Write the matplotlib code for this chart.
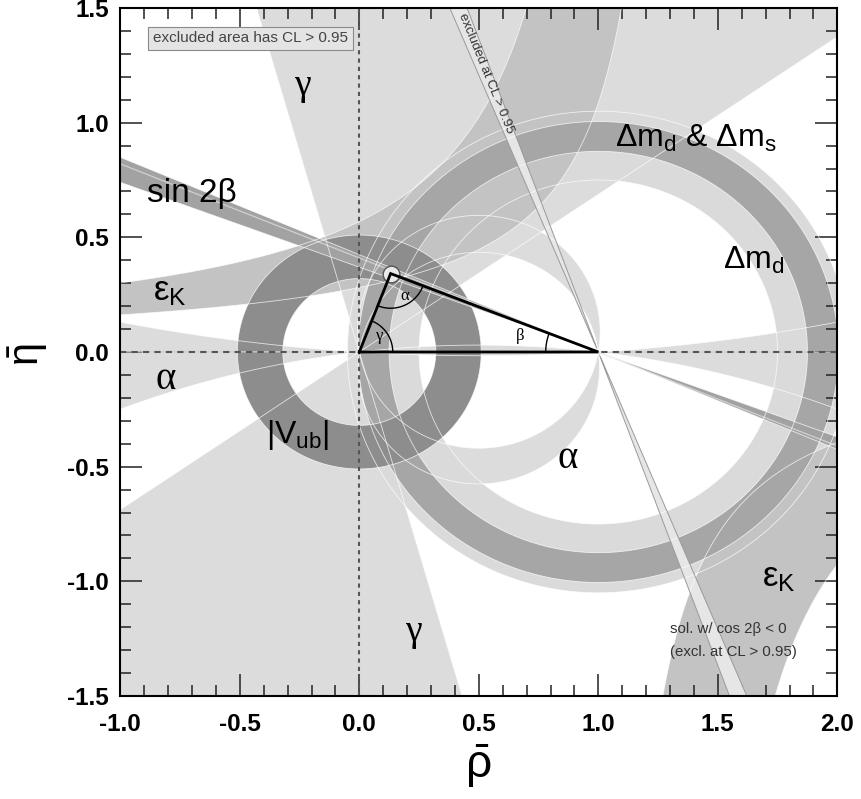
import numpy as np
import matplotlib
matplotlib.use("Agg")
import matplotlib.pyplot as plt

plt.rcParams['font.family'] = ['Liberation Sans', 'DejaVu Sans']
plt.rcParams['mathtext.fontset'] = 'custom'
plt.rcParams['mathtext.rm'] = 'Liberation Sans'
plt.rcParams['mathtext.it'] = 'Liberation Sans'
plt.rcParams['mathtext.bf'] = 'Liberation Sans:bold'
plt.rcParams['axes.unicode_minus'] = False

# ---------------- constraint data ----------------
gamma_deg = [34.5, 106.0]            # gamma: angle of (rho, eta) from origin, mod 180
alpha_main_deg = [80.0, 98.0]        # alpha solutions (mod 180)
alpha_mirror_deg = [-6.9, 3.7]
vub_r = [0.32, 0.51]                 # |Vub/Vcb| ring around (0,0)
dmd_r = [0.75, 1.05]                 # Delta m_d ring around (1,0)
dmd_dms_r = [0.875, 1.005]           # Delta m_d & Delta m_s ring
epsk_up_low = [1.35, 0.38]           # eps_K edges: eta*(a-rho)=k  -> (a, k)
epsk_up_high = [1.125, 0.64]
epsk_dn_inner = [1.01, 0.39]
epsk_dn_outer = [1.32, 0.63]
sin2b_deg = [20.3, 23.0]             # beta band from (1,0)
sin2b_line_deg = 22.3
cos2b_neg_deg = [67.5, 69.9]         # excluded cos2beta<0 solution
apex = [0.131, 0.342]                # (rho, eta) of the triangle apex

xlim = [-1.0, 2.0]
ylim = [-1.5, 1.5]
xticks_major = [-1.0, -0.5, 0.0, 0.5, 1.0, 1.5, 2.0]
yticks_major = [-1.5, -1.0, -0.5, 0.0, 0.5, 1.0, 1.5]

# ---------------- figure ----------------
W, H = 861, 799
fig = plt.figure(figsize=(W / 100, H / 100), dpi=100)
ax_rect = [120.3 / W, (H - 696) / H, 717 / W, 688 / H]
ax = fig.add_axes(ax_rect)
ax.set_xlim(xlim)
ax.set_ylim(ylim)
asp = (ax_rect[3] * H / (ylim[1] - ylim[0])) / (ax_rect[2] * W / (xlim[1] - xlim[0]))

rho = np.linspace(xlim[0], xlim[1], 1500)
eta = np.linspace(ylim[0], ylim[1], 1500)
R, E = np.meshgrid(rho, eta)
Z = R + 1j * E


def band(v, lo, hi):
    return np.maximum(lo - v, v - hi)


with np.errstate(all='ignore'):
    phi = np.degrees(np.arctan2(E, R)) % 180
    g_gamma = band(phi, *gamma_deg)

    alpha_s = np.degrees(np.angle((1 - Z) / (-Z)))
    a_m = alpha_s % 180
    b_m = (a_m + 90) % 180 - 90
    g_alpha = np.minimum(band(a_m, *alpha_main_deg), band(b_m, *alpha_mirror_deg))

    r0 = np.abs(Z)
    r1 = np.abs(Z - 1)
    g_vub = band(r0, *vub_r)
    g_dmd = band(r1, *dmd_r)
    g_dmds = band(r1, *dmd_dms_r)

    def hyp(edge):
        a, k = edge
        return E * (a - R) - k

    g_ek_up = np.maximum(np.maximum(-hyp(epsk_up_low), hyp(epsk_up_high)), -E)
    g_ek_dn = np.maximum(np.maximum(-hyp(epsk_dn_inner), hyp(epsk_dn_outer)), E)
    g_ek = np.minimum(g_ek_up, g_ek_dn)

    psi = np.degrees(np.arctan2(E, 1 - R)) % 180
    g_s2b = band(psi, *sin2b_deg)
    g_c2b = band(psi, *cos2b_neg_deg)

fields = []


def fill(g, color, z):
    g = np.nan_to_num(g, nan=1e3, posinf=1e3, neginf=-1e3)
    ax.contourf(R, E, g, levels=[g.min() - 1, 0], colors=[color], zorder=z, antialiased=True)
    fields.append(g)


fill(g_gamma, '#dcdcdc', 1.0)
fill(g_alpha, '#dcdcdc', 1.1)
fill(g_dmd, '#dadada', 1.2)
fill(g_ek, '#c3c3c3', 1.3)
fill(g_dmds, '#a6a6a6', 1.4)
fill(g_vub, '#8d8d8d', 1.5)
fill(g_s2b, '#a2a2a2', 1.6)
fill(g_c2b, '#e6e6e6', 1.7)

# thin white boundary lines of all regions
for g in fields[:-1]:
    ax.contour(R, E, g, levels=[0], colors='white', linewidths=0.6, alpha=0.75, zorder=1.8)
ax.contour(R, E, np.nan_to_num(psi), levels=[sin2b_line_deg], colors='#d0d0d0', linewidths=0.9, zorder=1.65)
ax.contour(R, E, fields[-1], levels=[0], colors='#9a9a9a', linewidths=0.7, zorder=1.9)

# dashed axes
ax.axhline(0, color='#555555', lw=1.5, ls=(0, (3, 2.5)), zorder=2.5)
ax.axvline(0, color='#555555', lw=1.5, ls=(0, (2, 2)), zorder=2.5)

# triangle
ax.plot([apex[0]], [apex[1]], marker='o', ms=12, mfc='#e9e9e9', mec='#555555', mew=1.0, zorder=3)
ax.plot([0, 1, apex[0], 0], [0, 0, apex[1], 0], color='black', lw=2.0, zorder=3.2,
        solid_joinstyle='miter')


def arc(px, py, q1, q2, r):
    t1 = np.arctan2((q1[1] - py) * asp, q1[0] - px)
    t2 = np.arctan2((q2[1] - py) * asp, q2[0] - px)
    if t2 < t1:
        t1, t2 = t2, t1
    if t2 - t1 > np.pi:
        t1, t2 = t2, t1 + 2 * np.pi
    t = np.linspace(t1, t2, 60)
    ax.plot(px + r * np.cos(t), py + r * np.sin(t) / asp, color='black', lw=1.0, zorder=3.1)


arc(0, 0, (1, 0), apex, 0.14)
arc(apex[0], apex[1], (0, 0), (1, 0), 0.145)
arc(1, 0, (0, 0), apex, 0.22)

serif = ['Liberation Serif', 'DejaVu Serif']
ax.text(0.085, 0.07, 'γ', fontsize=12, family=serif, ha='center', va='center', zorder=4)
ax.text(0.19, 0.245, 'α', fontsize=12, family=serif, ha='center', va='center', zorder=4)
ax.text(0.672, 0.07, 'β', fontsize=12, family=serif, ha='center', va='center', zorder=4)

# region labels
ax.text(-0.24, 1.16, 'γ', fontsize=27, family=serif, ha='center', va='center', zorder=4)
ax.text(0.226, -1.22, 'γ', fontsize=27, family=serif, ha='center', va='center', zorder=4)
ax.text(-0.81, -0.12, 'α', fontsize=28, family=serif, ha='center', va='center', zorder=4)
ax.text(0.87, -0.465, 'α', fontsize=28, family=serif, ha='center', va='center', zorder=4)
ax.text(-0.70, 0.69, 'sin 2β', fontsize=24, ha='center', va='center', zorder=4)
ax.text(-0.865, 0.265, r'ε$_\mathrm{K}$', fontsize=25, ha='left', va='center', zorder=4)
ax.text(1.685, -1.02, r'ε$_\mathrm{K}$', fontsize=25, ha='left', va='baseline', zorder=4)
ax.text(-0.26, -0.36, r'$|\mathrm{V_{ub}}|$', fontsize=23, ha='center', va='center', zorder=4)
ax.text(1.07, 0.893, r'Δm$_\mathrm{d}$ & Δm$_\mathrm{s}$', fontsize=23, ha='left', va='baseline', zorder=4)
ax.text(1.52, 0.364, r'Δm$_\mathrm{d}$', fontsize=23, ha='left', va='baseline', zorder=4)
ax.text(1.30, -1.21, 'sol. w/ cos 2β < 0', fontsize=10.8, color='#333333', ha='left', va='center', zorder=4)
ax.text(1.30, -1.306, '(excl. at CL > 0.95)', fontsize=10.8, color='#333333', ha='left', va='center', zorder=4)
ax.text(-0.455, 1.368, 'excluded area has CL > 0.95', fontsize=11, color='#444444', ha='center', va='center',
        zorder=4, bbox=dict(boxstyle='square,pad=0.3', fc='#e4e4e4', ec='#8a8a8a', lw=0.8))
ax.text(0.532, 1.215, 'excluded at CL > 0.95', fontsize=9.5, color='#333333', ha='center', va='center',
        rotation=-67.9, rotation_mode='anchor', zorder=4)

# axes / ticks
ax.set_xticks(xticks_major)
ax.set_yticks(yticks_major)
ax.set_xticks(np.round(np.arange(-1.0, 2.0001, 0.1), 2), minor=True)
ax.set_yticks(np.round(np.arange(-1.5, 1.5001, 0.1), 2), minor=True)
ax.set_xticklabels(['%.1f' % v for v in xticks_major])
ax.set_yticklabels(['%.1f' % v for v in yticks_major])
ax.tick_params(which='both', direction='in', top=True, right=True, width=1.1, color='#222222')
ax.tick_params(which='major', length=16, labelsize=17.5)
ax.tick_params(which='minor', length=8)
ax.tick_params(axis='y', which='major', pad=8)
ax.tick_params(axis='x', which='major', pad=12)
for lab in ax.get_xticklabels() + ax.get_yticklabels():
    lab.set_fontweight('bold')
for s in ax.spines.values():
    s.set_linewidth(1.5)
    s.set_zorder(5)

fig.text(28 / W, 1 - 355 / H, r'$\bar{\eta}$', fontsize=30, rotation=90, ha='center', va='center')
fig.text(478 / W, 1 - 766 / H, r'$\bar{\rho}$', fontsize=33, ha='center', va='center')

fig.savefig('out.png', dpi=100)
